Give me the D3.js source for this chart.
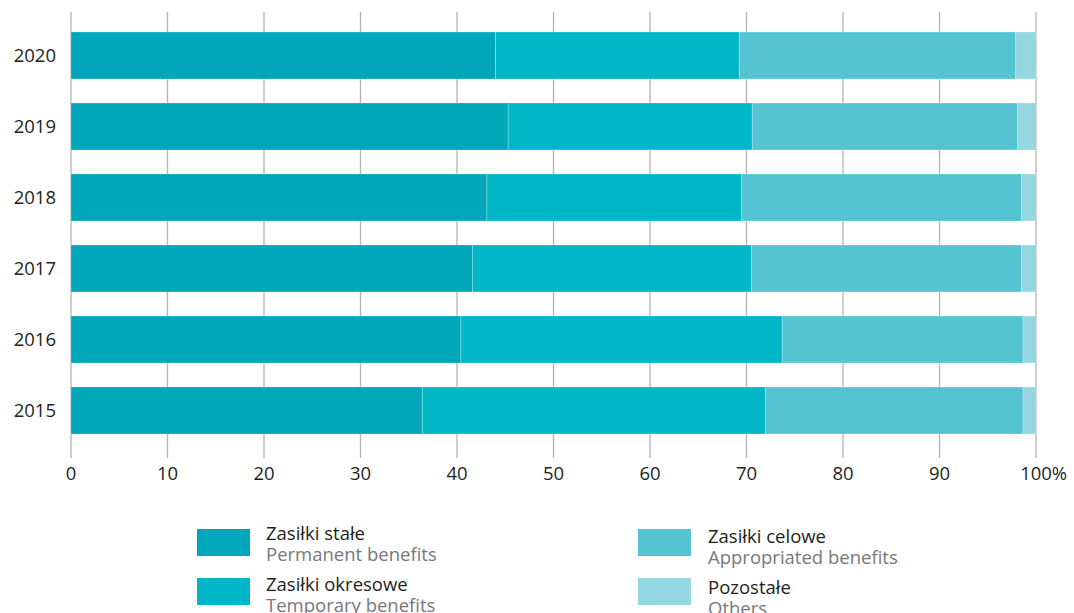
<!DOCTYPE html>
<html>
<head>
<meta charset="utf-8">
<script src="https://cdn.jsdelivr.net/npm/d3@7"></script>
<style>
  body { margin: 0; background: #fff; }
  text { font-family: "Open Sans", "Noto Sans", sans-serif; }
</style>
</head>
<body>
<div id="chart"></div>
<script>
// data (shares in %)
const years = ["2020", "2019", "2018", "2017", "2016", "2015"];
const stale     = [44.0, 45.3, 43.1, 41.6, 40.4, 36.4];
const okresowe  = [25.25, 25.3, 26.4, 28.9, 33.3, 35.55];
const celowe    = [28.65, 27.5, 29.0, 28.0, 24.95, 26.7];
const pozostale = [2.1, 1.9, 1.5, 1.5, 1.35, 1.35];

const seriesKeys = ["stale", "okresowe", "celowe", "pozostale"];
const seriesPl = ["Zasiłki stałe", "Zasiłki okresowe", "Zasiłki celowe", "Pozostałe"];
const seriesEn = ["Permanent benefits", "Temporary benefits", "Appropriated benefits", "Others"];
const colors = ["#00a7ba", "#00b7c8", "#55c4d2", "#95d7e0"];
const ticks = [0, 10, 20, 30, 40, 50, 60, 70, 80, 90, 100];

const table = years.map((y, i) => ({
  year: y, stale: stale[i], okresowe: okresowe[i], celowe: celowe[i], pozostale: pozostale[i]
}));

const w = 1074, h = 613;
const fs = 18.5;
const svg = d3.select("#chart").append("svg")
  .attr("width", w)
  .attr("height", h);

const x = d3.scaleLinear().domain([0, 100]).range([71, 1036]);
const y = d3.scaleBand().domain(years).range([20, 446])
  .paddingInner(0.338).paddingOuter(0.169);

// grid lines
svg.append("g")
  .selectAll("line")
  .data(ticks)
  .enter()
  .append("line")
  .attr("x1", d => x(d)).attr("x2", d => x(d))
  .attr("y1", 12).attr("y2", 458)
  .attr("stroke", "#b3b3b3")
  .attr("stroke-width", 1.3);

// stacked bars
const stack = d3.stack().keys(seriesKeys);
const layers = stack(table);

svg.append("g")
  .selectAll("g")
  .data(layers)
  .enter()
  .append("g")
  .attr("fill", (d, i) => colors[i])
  .selectAll("rect")
  .data(d => d)
  .enter()
  .append("rect")
  .attr("x", d => x(d[0]))
  .attr("width", d => x(d[1]) - x(d[0]))
  .attr("y", d => y(d.data.year))
  .attr("height", y.bandwidth())
  .attr("stroke", "rgba(255,255,255,0.3)")
  .attr("stroke-width", 0.8);

// year labels
svg.append("g")
  .selectAll("text")
  .data(years)
  .enter()
  .append("text")
  .attr("x", 56)
  .attr("y", d => y(d) + y.bandwidth() / 2 + 6.5)
  .attr("text-anchor", "end")
  .attr("font-size", fs)
  .attr("fill", "#231f20")
  .text(d => d);

// x tick labels
const tickLabels = svg.append("g")
  .selectAll("text")
  .data(ticks)
  .enter()
  .append("text")
  .attr("x", d => x(d))
  .attr("y", 480)
  .attr("text-anchor", "middle")
  .attr("font-size", fs)
  .attr("fill", "#231f20")
  .text(d => d);

// last tick: keep "100" centred on the line, "%" hangs to the right
tickLabels.filter(d => d === 100).each(function() {
  const t = d3.select(this);
  const numW = this.getComputedTextLength();
  t.attr("text-anchor", "start").attr("x", x(100) - numW / 2).text("100%");
});

// legend
const legendPos = [
  { x: 197, y: 529, tx: 266, ty: 540 },
  { x: 197, y: 578, tx: 266, ty: 591 },
  { x: 638, y: 529, tx: 708, ty: 543 },
  { x: 638, y: 578, tx: 708, ty: 594 }
];

const legend = svg.append("g")
  .selectAll("g")
  .data(seriesKeys)
  .enter()
  .append("g");

legend.append("rect")
  .attr("x", (d, i) => legendPos[i].x)
  .attr("y", (d, i) => legendPos[i].y)
  .attr("width", 53)
  .attr("height", 27)
  .attr("fill", (d, i) => colors[i]);

legend.append("text")
  .attr("x", (d, i) => legendPos[i].tx)
  .attr("y", (d, i) => legendPos[i].ty)
  .attr("font-size", fs)
  .attr("fill", "#231f20")
  .text((d, i) => seriesPl[i]);

legend.append("text")
  .attr("x", (d, i) => legendPos[i].tx)
  .attr("y", (d, i) => legendPos[i].ty + 21)
  .attr("font-size", fs)
  .attr("fill", "#77787b")
  .text((d, i) => seriesEn[i]);
</script>
</body>
</html>
